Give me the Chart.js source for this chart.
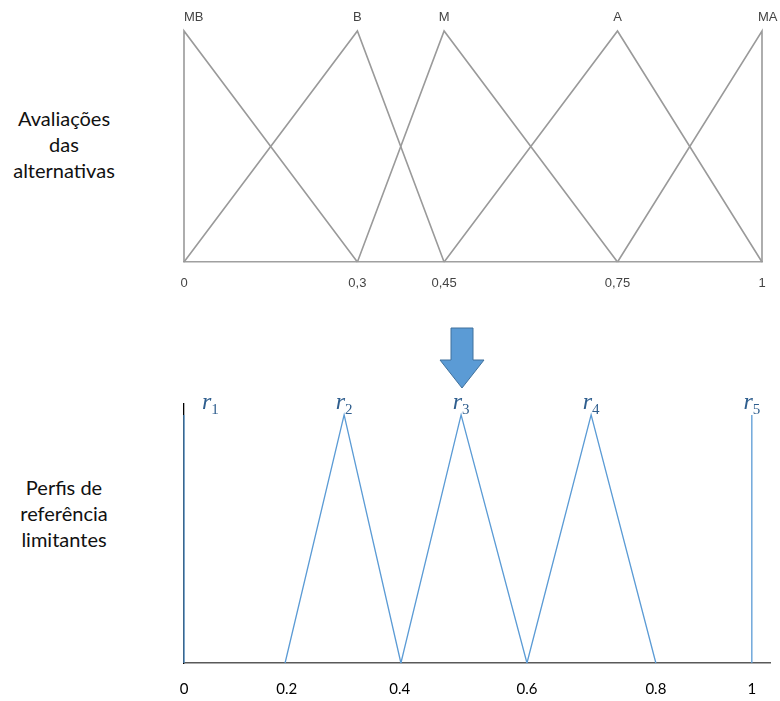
<!DOCTYPE html>
<html>
<head>
<meta charset="utf-8">
<script src="https://cdn.jsdelivr.net/npm/chart.js@4.4.1/dist/chart.umd.min.js"></script>
<style>
    body { margin: 0; background: #fff; }
    #pagina { position: relative; width: 780px; height: 701px; overflow: hidden; }
    .grafico { position: absolute; left: 0; width: 780px; }
    #wrap-aval { top: 0; height: 300px; }
    #wrap-perfis { top: 390px; height: 311px; }
    .rotulo-lado {
        position: absolute; left: 0; width: 128px; text-align: center;
        font-family: "Lato", sans-serif; font-size: 20px; line-height: 26px; color: #111;
    }
    #seta { position: absolute; left: 438px; top: 326px; }
</style>
</head>
<body>
<div id="pagina">
    <div class="rotulo-lado" style="top: 105px;">Avaliações<br>das<br>alternativas</div>
    <div class="rotulo-lado" style="top: 474px;">Perfis de<br>referência<br>limitantes</div>

    <div class="grafico" id="wrap-aval"><canvas id="chart-aval"></canvas></div>

    <svg id="seta" width="50" height="66">
        <polygon points="13,2 35,2 35,34 46,34 24,62 2,34 13,34"
                 fill="#5b9bd5" stroke="#41719c" stroke-width="1"/>
    </svg>

    <div class="grafico" id="wrap-perfis"><canvas id="chart-perfis"></canvas></div>
</div>

<script>
// Termos linguísticos das avaliações (escala 0–1)
const termos = ['MB', 'B', 'M', 'A', 'MA'];
const termoEsq = [0, 0, 0.3, 0.45, 0.75];
const termoPico = [0, 0.3, 0.45, 0.75, 1];
const termoDir = [0.3, 0.45, 0.75, 1, 1];
const ticksAval = [0, 0.3, 0.45, 0.75, 1];
const ticksAvalTxt = ['0', '0,3', '0,45', '0,75', '1'];

// Perfis de referência limitantes r1..r5 (posições no eixo desenhado)
const perfis = ['1', '2', '3', '4', '5'];
const perfilEsq = [0, 0.178, 0.382, 0.604, 1];
const perfilPico = [0, 0.282, 0.488, 0.717, 1];
const perfilDir = [0, 0.382, 0.604, 0.831, 1];
const ticksPerfil = [0, 0.181, 0.38, 0.604, 0.831, 1];
const ticksPerfilTxt = ['0', '0.2', '0.4', '0.6', '0.8', '1'];

function triangulos(esq, pico, dir) {
    return esq.map((e, i) => [
        { x: e, y: 0 },
        { x: pico[i], y: 1 },
        { x: dir[i], y: 0 }
    ]);
}

// Escreve o nome de cada termo acima do pico
const rotulosTermos = {
    id: 'rotulosTermos',
    afterDatasetsDraw(chart) {
        const { ctx, scales: { x, y } } = chart;
        const topo = y.getPixelForValue(1);
        ctx.save();
        ctx.font = '13px "Liberation Sans", Arial, sans-serif';
        ctx.fillStyle = '#444';
        ctx.textBaseline = 'middle';
        termos.forEach((t, i) => {
            let px = x.getPixelForValue(termoPico[i]);
            if (i === 0) {
                ctx.textAlign = 'left';
            } else if (i === termos.length - 1) {
                ctx.textAlign = 'left';
                px -= 4;
            } else {
                ctx.textAlign = 'center';
            }
            ctx.fillText(t, px, topo - 14);
        });
        ctx.restore();
    }
};

// r com índice, acima de cada perfil
const rotulosPerfis = {
    id: 'rotulosPerfis',
    afterDatasetsDraw(chart) {
        const { ctx, scales: { x, y } } = chart;
        const topo = y.getPixelForValue(1);
        const fonteR = 'italic 24px "Liberation Serif", "DejaVu Serif", serif';
        const fonteN = '15px "Liberation Serif", "DejaVu Serif", serif';
        ctx.save();
        ctx.fillStyle = '#2f5e8e';
        ctx.textBaseline = 'alphabetic';
        perfis.forEach((n, i) => {
            ctx.font = fonteR;
            const wr = ctx.measureText('r').width;
            ctx.font = fonteN;
            const wn = ctx.measureText(n).width;
            const px = x.getPixelForValue(perfilPico[i]);
            const inicio = i === 0 ? px + 18 : px - (wr + wn) / 2;
            const base = topo - 6;
            ctx.font = fonteR;
            ctx.fillText('r', inicio, base);
            ctx.font = fonteN;
            ctx.fillText(n, inicio + wr, base + 5);
        });
        ctx.restore();
    }
};

function datasetsDe(pontos, cor, largura) {
    return pontos.map(p => ({
        data: p,
        showLine: true,
        borderColor: cor,
        borderWidth: largura,
        pointRadius: 0,
        tension: 0,
        clip: false
    }));
}

const ctxAval = document.getElementById('chart-aval').getContext('2d');
new Chart(ctxAval, {
    type: 'scatter',
    data: { datasets: datasetsDe(triangulos(termoEsq, termoPico, termoDir), '#9a9a9a', 1.6) },
    options: {
        responsive: true,
        maintainAspectRatio: false,
        animation: false,
        layout: { padding: { left: 184, right: 18, top: 31, bottom: 0 } },
        plugins: { legend: { display: false }, tooltip: { enabled: false } },
        scales: {
            x: {
                type: 'linear', min: 0, max: 1,
                grid: { display: false, drawTicks: false },
                border: { display: true, color: '#a0a0a0', width: 1.6 },
                afterBuildTicks: s => { s.ticks = ticksAval.map(v => ({ value: v })); },
                afterFit: s => { s.height = 38; },
                ticks: {
                    padding: 14,
                    color: '#444',
                    font: { family: '"Liberation Sans", Arial, sans-serif', size: 13 },
                    maxRotation: 0,
                    callback: (v, i) => ticksAvalTxt[i]
                }
            },
            y: { type: 'linear', min: 0, max: 1, display: false }
        }
    },
    plugins: [rotulosTermos]
});

const ctxPerfis = document.getElementById('chart-perfis').getContext('2d');
new Chart(ctxPerfis, {
    type: 'scatter',
    data: { datasets: datasetsDe(triangulos(perfilEsq, perfilPico, perfilDir), '#5b9bd5', 1.3) },
    options: {
        responsive: true,
        maintainAspectRatio: false,
        animation: false,
        layout: { padding: { left: 184, right: 10, top: 14, bottom: 0 } },
        plugins: { legend: { display: false }, tooltip: { enabled: false } },
        scales: {
            x: {
                type: 'linear', min: 0, max: 1.032,
                grid: { display: false, drawTicks: false },
                border: { display: true, color: '#595959', width: 1.6 },
                afterBuildTicks: s => { s.ticks = ticksPerfil.map(v => ({ value: v })); },
                afterFit: s => { s.height = 38; },
                ticks: {
                    padding: 17,
                    color: '#000',
                    font: { family: '"Lato", sans-serif', size: 15 },
                    maxRotation: 0,
                    callback: (v, i) => ticksPerfilTxt[i]
                }
            },
            y: {
                type: 'linear', min: 0, max: 1.044,
                grid: { display: false, drawTicks: false },
                border: { display: true, color: '#000', width: 1.3 },
                ticks: { display: false },
                afterFit: s => { s.width = 0; }
            }
        }
    },
    plugins: [rotulosPerfis]
});
</script>
</body>
</html>
